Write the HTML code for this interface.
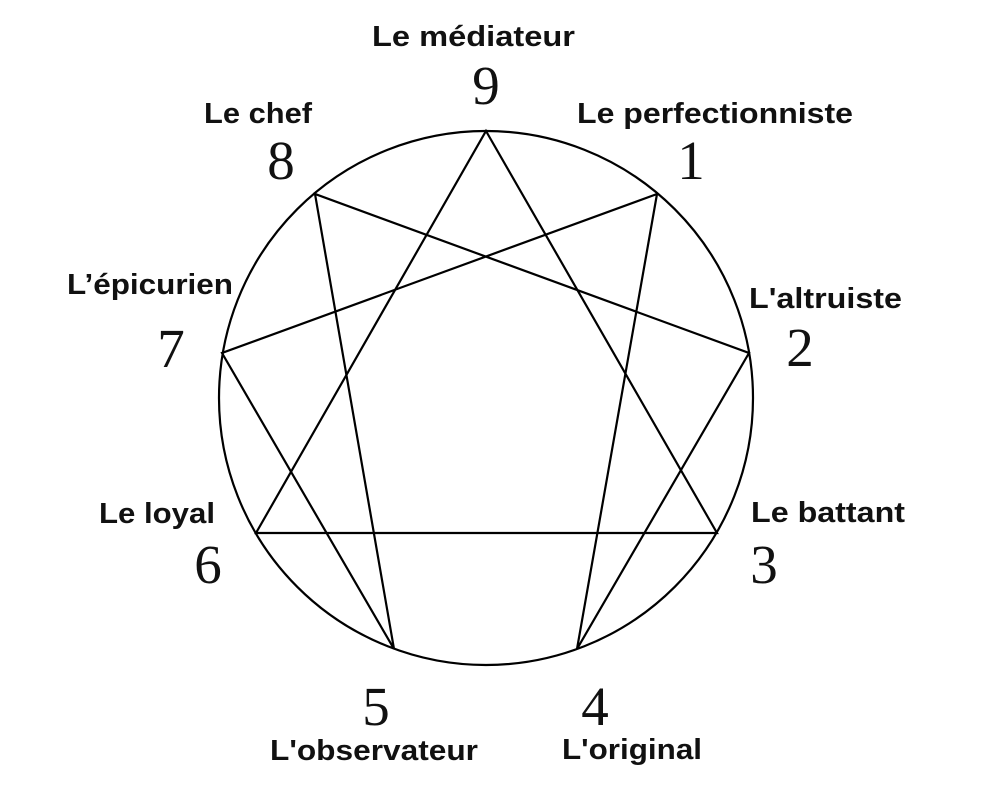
<!DOCTYPE html>
<html><head><meta charset="utf-8"><style>
html,body{margin:0;padding:0;background:#fff;}
svg{display:block;}
.l{font-family:"Liberation Sans",sans-serif;font-weight:bold;font-size:29px;fill:#111;}
.n{font-family:"Liberation Serif",serif;font-size:55px;fill:#111;}
</style></head><body>
<svg width="982" height="800" viewBox="0 0 982 800">
<ellipse cx="486" cy="398" rx="267" ry="267" fill="none" stroke="#000" stroke-width="2.2"/>
<g fill="none" stroke="#000" stroke-width="2.2">
<polygon points="486,131 717,533 256,533"/>
<polyline points="657,194 577,649 749,353 315,194 394,649 222,353 657,194"/>
</g>
<text class="l" x="372" y="46" textLength="203" lengthAdjust="spacingAndGlyphs">Le médiateur</text>
<text class="n" x="486" y="104" text-anchor="middle">9</text>
<text class="l" x="577" y="123" textLength="276" lengthAdjust="spacingAndGlyphs">Le perfectionniste</text>
<text class="n" x="691" y="179" text-anchor="middle">1</text>
<text class="l" x="204" y="123" textLength="108" lengthAdjust="spacingAndGlyphs">Le chef</text>
<text class="n" x="281" y="179" text-anchor="middle">8</text>
<text class="l" x="749" y="308" textLength="153" lengthAdjust="spacingAndGlyphs">L'altruiste</text>
<text class="n" x="800" y="366" text-anchor="middle">2</text>
<text class="l" x="67" y="294" textLength="166" lengthAdjust="spacingAndGlyphs">L’épicurien</text>
<text class="n" x="171" y="367" text-anchor="middle">7</text>
<text class="l" x="751" y="522" textLength="154" lengthAdjust="spacingAndGlyphs">Le battant</text>
<text class="n" x="764" y="583" text-anchor="middle">3</text>
<text class="l" x="99" y="523" textLength="116" lengthAdjust="spacingAndGlyphs">Le loyal</text>
<text class="n" x="208" y="583" text-anchor="middle">6</text>
<text class="n" x="376" y="725" text-anchor="middle">5</text>
<text class="l" x="270" y="760" textLength="208" lengthAdjust="spacingAndGlyphs">L'observateur</text>
<text class="n" x="595" y="725" text-anchor="middle">4</text>
<text class="l" x="562" y="759" textLength="140" lengthAdjust="spacingAndGlyphs">L'original</text>
</svg>
</body></html>
